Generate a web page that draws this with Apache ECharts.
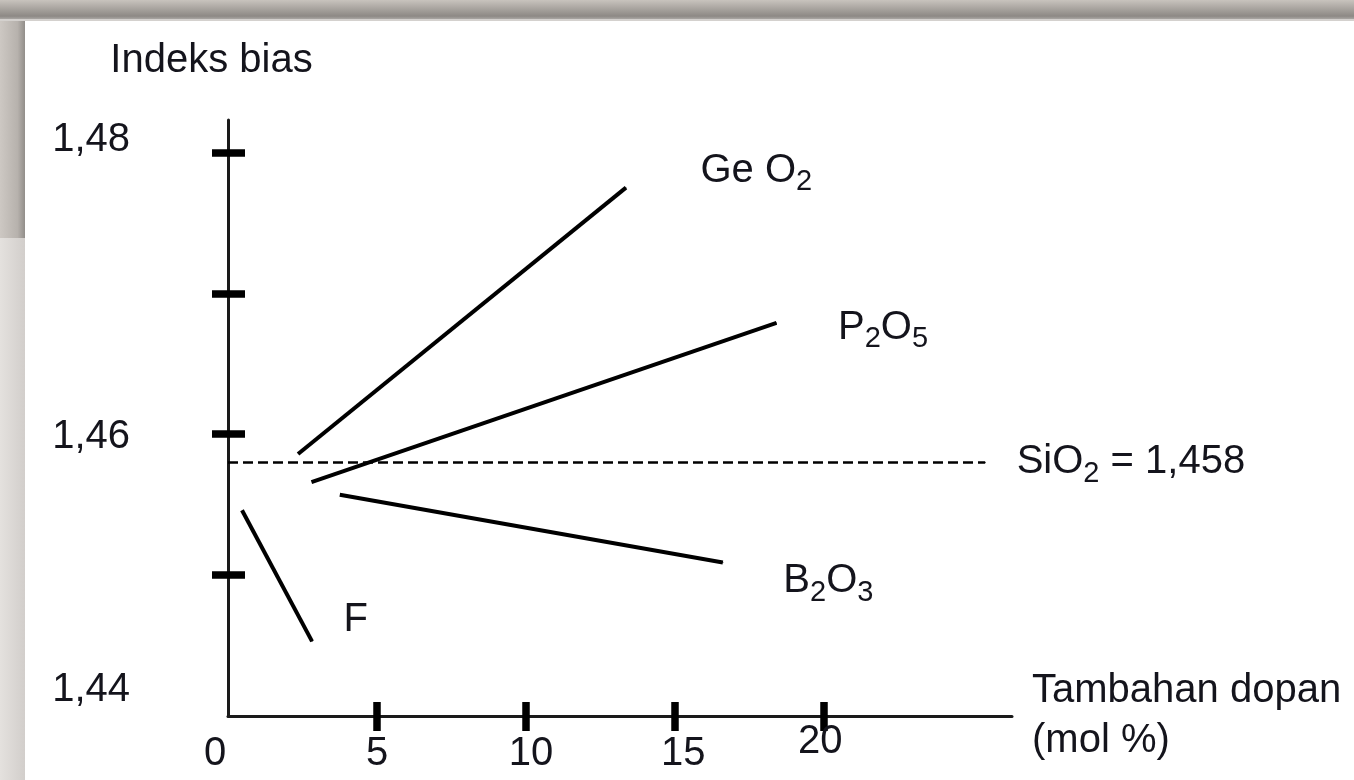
<!DOCTYPE html>
<html>
<head>
<meta charset="utf-8">
<script src="https://cdn.jsdelivr.net/npm/echarts@6/dist/echarts.min.js"></script>
<style>
html,body{margin:0;padding:0;background:#fff;}
#chart{width:1354px;height:780px;}
</style>
</head>
<body>
<div id="chart"></div>
<script>
// ---- data ----
const xTickValues = [5, 10, 15, 20];
const xLabelValues = [0, 5, 10, 15, 20];
const yTickValues = [1.45, 1.46, 1.47, 1.48];
const yLabelValues = [1.44, 1.46, 1.48];
const geo2 = [[2.35, 1.4586], [13.35, 1.4775]];
const p2o5 = [[2.8, 1.4566], [18.4, 1.4679]];
const b2o3 = [[3.75, 1.4557], [16.6, 1.4509]];
const fluor = [[0.47, 1.4546], [2.82, 1.4453]];
const sio2 = [[0, 1.458], [25.4, 1.458]];
const seriesNames = ['GeO2', 'P2O5', 'B2O3', 'F', 'SiO2'];
const seriesLabels = ['{m|Ge O}{s|2}', '{m|P}{s|2}{m|O}{s|5}', '{m|B}{s|2}{m|O}{s|3}', '{m|F}', '{m|SiO}{s|2}{m| = 1,458}'];
const yAxisName = 'Indeks bias';
const xAxisName = 'Tambahan dopan\n(mol %)';

// ---- styling ----
const FONT = "'Liberation Sans', Arial, sans-serif";
const TXT = '#14141c';
const labelOffsets = [[74, -17], [61, 5], [60, 19], [31, -21], [31, 0]];
const richLabel = {
  m: {fontSize: 40, fontFamily: FONT, color: TXT},
  s: {fontSize: 29, fontFamily: FONT, color: TXT, padding: [23, 0, 0, 0]}
};

function makeSeries(name, data, text, offset, dashed) {
  return {
    type: 'line',
    name: name,
    xAxisIndex: 0,
    yAxisIndex: 0,
    symbol: 'none',
    silent: true,
    animation: false,
    lineStyle: {color: '#000', width: dashed ? 2.5 : 4, type: dashed ? [10, 5] : 'solid'},
    itemStyle: {color: '#000'},
    data: data.map(function (p, i) {
      if (i < data.length - 1) return {value: p};
      return {
        value: p,
        symbol: 'circle',
        symbolSize: 1,
        label: {
          show: true, position: 'right', distance: 0, offset: offset,
          formatter: text, rich: richLabel, color: TXT
        }
      };
    })
  };
}

const xMin = 0, xMax = 26.3, yMin = 1.44, yMax = 1.4823;

const yRich = {
  a: {fontSize: 40, fontFamily: FONT, color: TXT, padding: [0, 0, 24, 0]},
  b: {fontSize: 40, fontFamily: FONT, color: TXT, padding: [6, 0, 0, 0]},
  c: {fontSize: 40, fontFamily: FONT, color: TXT, padding: [0, 0, 52, 0]}
};
const xRich = {
  z: {fontSize: 40, fontFamily: FONT, color: TXT, padding: [0, 26, 0, 0]},
  n: {fontSize: 40, fontFamily: FONT, color: TXT},
  p: {fontSize: 40, fontFamily: FONT, color: TXT, padding: [0, 0, 0, 10]},
  q: {fontSize: 40, fontFamily: FONT, color: TXT, padding: [0, 0, 0, 16]},
  t: {fontSize: 40, fontFamily: FONT, color: TXT, padding: [0, 8, 24, 0]}
};

const chart = echarts.init(document.getElementById('chart'), null, {renderer: 'canvas'});
chart.setOption({
  backgroundColor: '#ffffff',
  animation: false,
  textStyle: {fontFamily: FONT},
  graphic: [
    {type: 'rect', z: -10, shape: {x: 0, y: 0, width: 1354, height: 19},
      style: {fill: new echarts.graphic.LinearGradient(0, 0, 0, 1, [
        {offset: 0, color: '#c8c3bd'}, {offset: 0.85, color: '#8d8985'}, {offset: 1, color: '#a9a6a3'}])}},
    {type: 'rect', z: -10, shape: {x: 0, y: 19, width: 1354, height: 2}, style: {fill: '#d4d1ce'}},
    {type: 'rect', z: -10, shape: {x: 0, y: 21, width: 25, height: 217},
      style: {fill: new echarts.graphic.LinearGradient(0, 0, 1, 0, [
        {offset: 0, color: '#cdc8c3'}, {offset: 0.7, color: '#b7b2ad'}, {offset: 1, color: '#928e8a'}])}},
    {type: 'rect', z: -10, shape: {x: 0, y: 238, width: 25, height: 542},
      style: {fill: new echarts.graphic.LinearGradient(0, 0, 1, 0, [
        {offset: 0, color: '#e4e1de'}, {offset: 1, color: '#d2cecb'}])}}
  ],
  grid: {left: 228, top: 120, width: 784, height: 596, containLabel: false, outerBoundsMode: 'none'},
  xAxis: [
    {
      type: 'value', position: 'bottom', min: xMin, max: xMax,
      name: xAxisName, nameLocation: 'end', nameGap: 20,
      nameTextStyle: {fontSize: 40, fontFamily: FONT, color: TXT, lineHeight: 50, align: 'left', verticalAlign: 'middle'},
      axisLine: {show: true, onZero: false, lineStyle: {color: '#1a1a1a', width: 3}},
      axisTick: {show: true, inside: false, length: 15, customValues: xTickValues, lineStyle: {color: '#000', width: 7.5}},
      axisLabel: {
        show: true, customValues: xLabelValues, margin: 38, verticalAlign: 'middle',
        formatter: function (v) {
          const k = Math.round(v);
          const key = k === 0 ? 'z' : k === 5 ? 'n' : k === 10 ? 'p' : k === 15 ? 'q' : 't';
          return '{' + key + '|' + k + '}';
        },
        rich: xRich
      },
      splitLine: {show: false}
    },
    {
      type: 'value', position: 'bottom', min: xMin, max: xMax,
      axisLine: {show: false},
      axisTick: {show: true, inside: true, length: 14, customValues: xTickValues, lineStyle: {color: '#000', width: 7.5}},
      axisLabel: {show: false},
      splitLine: {show: false}
    }
  ],
  yAxis: [
    {
      type: 'value', position: 'left', min: yMin, max: yMax,
      name: yAxisName, nameLocation: 'end', nameGap: 39,
      nameTextStyle: {fontSize: 40, fontFamily: FONT, color: TXT, padding: [0, 33, 0, 0]},
      axisLine: {show: true, onZero: false, lineStyle: {color: '#1a1a1a', width: 3}},
      axisTick: {show: true, inside: false, length: 16, customValues: yTickValues, lineStyle: {color: '#000', width: 7.5}},
      axisLabel: {
        show: true, customValues: yLabelValues, margin: 98,
        formatter: function (v) {
          const k = Math.round(v * 100);
          const s = (k / 100).toFixed(2).replace('.', ',');
          const key = k === 148 ? 'a' : k === 146 ? 'b' : 'c';
          return '{' + key + '|' + s + '}';
        },
        rich: yRich
      },
      splitLine: {show: false}
    },
    {
      type: 'value', position: 'left', min: yMin, max: yMax,
      axisLine: {show: false},
      axisTick: {show: true, inside: true, length: 17, customValues: yTickValues, lineStyle: {color: '#000', width: 7.5}},
      axisLabel: {show: false},
      splitLine: {show: false}
    }
  ],
  series: [
    makeSeries(seriesNames[0], geo2, seriesLabels[0], labelOffsets[0], false),
    makeSeries(seriesNames[1], p2o5, seriesLabels[1], labelOffsets[1], false),
    makeSeries(seriesNames[2], b2o3, seriesLabels[2], labelOffsets[2], false),
    makeSeries(seriesNames[3], fluor, seriesLabels[3], labelOffsets[3], false),
    makeSeries(seriesNames[4], sio2, seriesLabels[4], labelOffsets[4], true)
  ]
});
</script>
</body>
</html>
